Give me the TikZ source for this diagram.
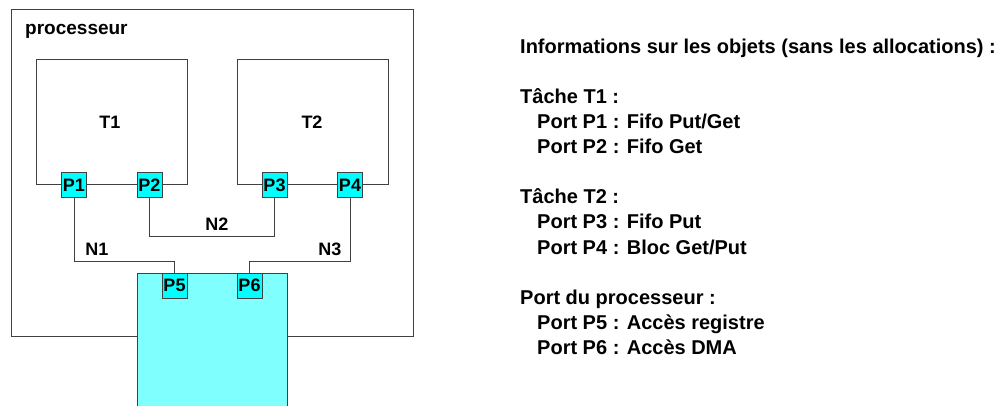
\documentclass[tikz,border=0pt]{standalone}
\usepackage{fontspec}
\setmainfont{Liberation Sans}
\usetikzlibrary{calc}
\definecolor{portcyan}{HTML}{00FFFF}
\definecolor{cpucyan}{HTML}{80FFFF}
\definecolor{linegray}{HTML}{404040}
\begin{document}
\begin{tikzpicture}[x=1pt,y=-1pt,
  every node/.style={font=\bfseries\fontsize{18}{22}\selectfont},
  boxstyle/.style={draw=linegray, line width=1pt, inner sep=0pt},
  portbox/.style={draw=linegray, line width=1pt, fill=portcyan, minimum width=25pt, minimum height=25pt, inner sep=0pt},
  wire/.style={draw=linegray, line width=1pt},
  infoline/.style={anchor=base west, inner sep=0pt, font=\bfseries\fontsize{20}{25}\selectfont}]
\useasboundingbox (0,0) rectangle (998,406);
\fill[white] (0,0) rectangle (998,406);
% outer processor box
\node[boxstyle, minimum width=402pt, minimum height=326pt] (proc) at (212,173) {};
\node[anchor=base west, inner sep=0pt, font=\bfseries\fontsize{19}{22}\selectfont] (proclabel) at (25,35) {processeur};
% tasks
\node[boxstyle, minimum width=151pt, minimum height=125pt] (T1) at (111.5,122.5) {};
\node[boxstyle, minimum width=151pt, minimum height=125pt] (T2) at (312.5,122.5) {};
\node (T1lab) at (110,122) {T1};
\node (T2lab) at (312,122) {T2};
% cpu block (open at bottom)
\fill[cpucyan] (137,273) rectangle (287,407);
\draw[wire] (137,407) -- (137,273) -- (287,273) -- (287,407);
\coordinate (cpu) at (212,273);
% ports
\node[portbox] (P1) at (74,185.5) {P1};
\node[portbox] (P2) at (149.5,185.5) {P2};
\node[portbox] (P3) at (274.5,185.5) {P3};
\node[portbox] (P4) at (350,185.5) {P4};
\node[portbox] (P5) at (174.5,285.5) {P5};
\node[portbox] (P6) at (249.5,285.5) {P6};
% nets
\draw[wire] (P1.south) -- (P1.south |- 0,261) -| (P5.north);
\draw[wire] (P2.south) -- (P2.south |- 0,236) -| (P3.south);
\draw[wire] (P4.south) -- (P4.south |- 0,261) -| (P6.north);
\node (N1) at (97,249) {N1};
\node (N2) at (217,224) {N2};
\node (N3) at (330,249) {N3};
% information text
\node[infoline] (i0) at (520,54) {Informations sur les objets (sans les allocations) :};
\node[infoline] (i1) at (520,104) {Tâche T1 :};
\node[infoline] (i2) at (537,129) {Port P1 : Fifo Put/Get};
\node[infoline] (i3) at (537,154) {Port P2 : Fifo Get};
\node[infoline] (i4) at (520,204) {Tâche T2 :};
\node[infoline] (i5) at (537,229) {Port P3 : Fifo Put};
\node[infoline] (i6) at (537,254) {Port P4 : Bloc Get/Put};
\node[infoline] (i7) at (520,304) {Port du processeur :};
\node[infoline] (i8) at (537,329) {Port P5 : Accès registre};
\node[infoline] (i9) at (537,354) {Port P6 : Accès DMA};
\end{tikzpicture}
\end{document}
